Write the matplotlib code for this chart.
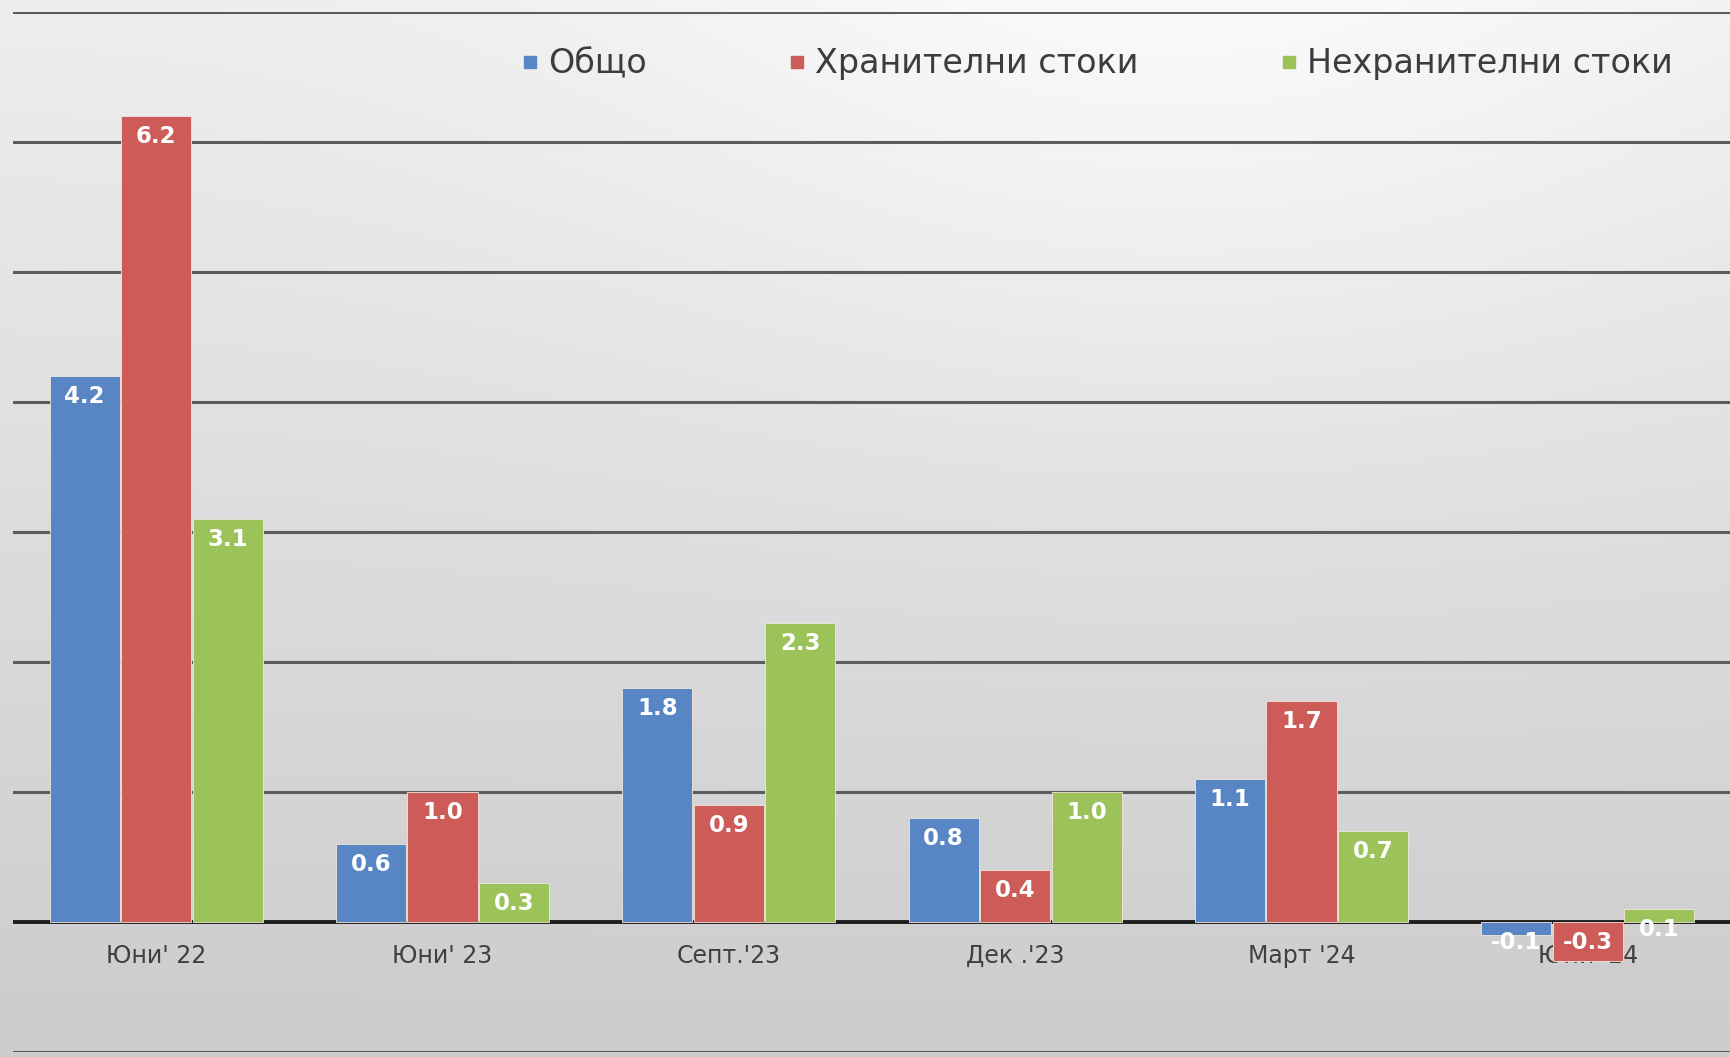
import numpy as np
import matplotlib.pyplot as plt
from matplotlib.lines import Line2D

categories = ["Юни' 22", "Юни' 23", "Септ.'23", "Дек .'23", "Март '24", "Юни '24"]
series_names = ["Общо", "Хранителни стоки", "Нехранителни стоки"]
total = [4.2, 0.6, 1.8, 0.8, 1.1, -0.1]
food = [6.2, 1.0, 0.9, 0.4, 1.7, -0.3]
nonfood = [3.1, 0.3, 2.3, 1.0, 0.7, 0.1]
colors = ["#5886c4", "#cd5b57", "#9cc35a"]

fig = plt.figure(figsize=(17.31, 10.57), dpi=100)

# background gradient: light at top centre, grey towards the bottom
bg = fig.add_axes([0, 0, 1, 1], zorder=-10)
yy, xx = np.mgrid[0:1:300j, 0:1:500j]
shade = 0.93 - 0.13 * yy + 0.05 * np.exp(-((xx - 0.68) / 0.35) ** 2 - (yy / 0.45) ** 2)
shade = np.clip(shade, 0, 0.975)
bg.imshow(np.dstack([shade] * 3), extent=[0, 1, 1, 0], aspect="auto", interpolation="bilinear")
bg.set_axis_off()

ax = fig.add_axes([13 / 1731, 5 / 1057, 1718 / 1731, 1040 / 1057])
ax.patch.set_alpha(0)
ax.set_axisbelow(True)
# category labels sit on the zero line (setting this resets tick styling, so do it first)
ax.spines["bottom"].set_position(("data", 0))

x = np.arange(len(categories))
width = 0.245
offsets = [-0.25, 0, 0.25]
all_series = [total, food, nonfood]

for gy in range(-1, 8):
    if gy == 0:
        continue
    ax.axhline(gy, color="#5c5c5c", lw=2.2, zorder=0)
ax.axhline(0, color="#1e1e1e", lw=2.8, zorder=0.6)

for vals, off, col, name in zip(all_series, offsets, colors, series_names):
    ax.bar(x + off, vals, width, color=col, edgecolor="#f2e6dc", linewidth=0.6, zorder=2, label=name)
    for xi, v in zip(x + off, vals):
        ax.annotate(f"{v:.1f}", (xi, max(v, 0)), xytext=(0, -15), textcoords="offset points",
                    ha="center", va="center", color="white", fontsize=16.5, fontweight="bold", zorder=5)

ax.set_xlim(-0.5, len(categories) - 0.5)
ax.set_ylim(-1, 7)
ax.set_yticks([])
ax.set_xticks(x)
ax.set_xticklabels(categories, fontsize=17, color="#404040")
ax.tick_params(axis="x", length=0, pad=16)
for s in ax.spines.values():
    s.set_visible(False)

handles = [Line2D([], [], marker="s", linestyle="none", markersize=9, color=c) for c in colors]
leg = ax.legend(handles, series_names, ncol=3, loc="center", bbox_to_anchor=(1084 / 1718, (1052 - 64) / 1040),
                frameon=False, fontsize=24, handlelength=0.5, handletextpad=0.3, columnspacing=4.25)
for t in leg.get_texts():
    t.set_color("#3c3c3c")

fig.savefig("out.png", dpi=100)
